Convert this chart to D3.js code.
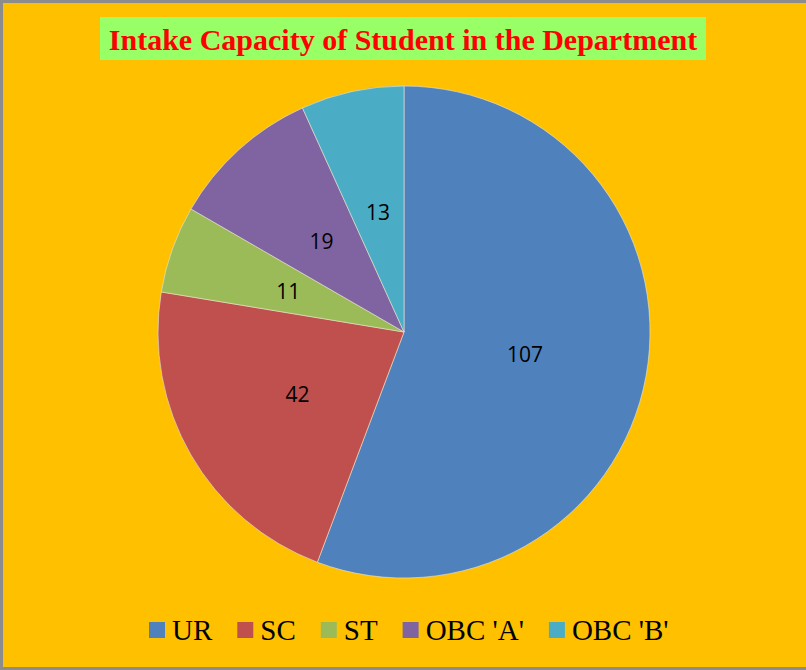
<!DOCTYPE html>
<html><head><meta charset="utf-8">
<script src="https://cdn.jsdelivr.net/npm/d3@7"></script>
<style>html,body{margin:0;padding:0;background:#fff;}svg{display:block;}</style>
</head><body>
<script>
const categories = ["UR", "SC", "ST", "OBC 'A'", "OBC 'B'"];
const values = [107, 42, 11, 19, 13];
const colors = ["#4F81BD", "#C0504D", "#9BBB59", "#8064A2", "#4BACC6"];
const title = "Intake Capacity of Student in the Department";

const W = 806, H = 670;
const svg = d3.select("body").append("svg").attr("width", W).attr("height", H);
svg.append("rect").attr("x", 0).attr("y", 0).attr("width", W).attr("height", H).attr("fill", "#FFC000");
// border
svg.append("rect").attr("x", 1.5).attr("y", 1.5).attr("width", W + 5).attr("height", H - 3)
  .attr("fill", "none").attr("stroke", "#8C8C8C").attr("stroke-width", 3);

// title
svg.append("rect").attr("x", 100).attr("y", 17).attr("width", 606).attr("height", 43).attr("fill", "#99FF66");
svg.append("text").attr("x", 403).attr("y", 50).attr("text-anchor", "middle")
  .attr("font-family", "'Liberation Serif', 'Times New Roman', serif").attr("font-weight", "bold")
  .attr("font-size", 30).attr("fill", "#FF0000").text(title);

const data = categories.map((c, i) => ({cat: c, val: values[i], color: colors[i]}));
const cx = 404, cy = 332, r = 246;
const pie = d3.pie().value(d => d.val).sort(null);
const arc = d3.arc().innerRadius(0).outerRadius(r);
const g = svg.append("g").attr("transform", `translate(${cx},${cy})`);
const arcs = pie(data);
g.selectAll("path").data(arcs).enter().append("path")
  .attr("d", arc).attr("fill", d => d.data.color)
  .attr("stroke", "#E8E8D8").attr("stroke-width", 0.6);
g.selectAll("text").data(arcs).enter().append("text")
  .attr("transform", d => `translate(${arc.centroid(d)})`)
  .attr("text-anchor", "middle").attr("dominant-baseline", "central")
  .attr("font-family", "'Open Sans', 'Liberation Sans', sans-serif").attr("font-size", 21)
  .attr("fill", "#000").text(d => d.data.val);

// legend
const lg = svg.append("g");
let x = 149;
const sq = 16, ly = 622;
data.forEach(d => {
  lg.append("rect").attr("x", x).attr("y", ly).attr("width", sq).attr("height", sq).attr("fill", d.color);
  const t = lg.append("text").attr("x", x + sq + 7).attr("y", 640)
    .attr("font-family", "'Liberation Serif', 'Times New Roman', serif").attr("font-size", 29)
    .attr("fill", "#000").text(d.cat);
  const w = t.node().getComputedTextLength();
  x = x + sq + 7 + w + 25;
});
</script>
</body></html>
